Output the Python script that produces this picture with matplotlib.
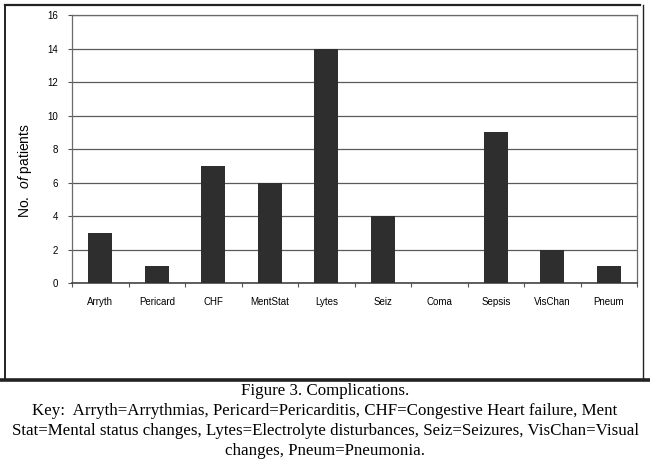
import matplotlib.pyplot as plt
from matplotlib.lines import Line2D
import numpy as np

plt.rcParams['mathtext.fontset'] = 'custom'
plt.rcParams['mathtext.rm'] = 'Liberation Sans'
plt.rcParams['mathtext.it'] = 'Liberation Sans:italic'

categories = ['Arryth', 'Pericard', 'CHF', 'MentStat', 'Lytes', 'Seiz', 'Coma', 'Sepsis', 'VisChan', 'Pneum']
patients = [3, 1, 7, 6, 14, 4, 0, 9, 2, 1]
y_ticks = [0, 2, 4, 6, 8, 10, 12, 14, 16]

caption_title = 'Figure 3. Complications.'
caption_key = ('Key:  Arryth=Arrythmias, Pericard=Pericarditis, CHF=Congestive Heart failure, Ment\n'
               'Stat=Mental status changes, Lytes=Electrolyte disturbances, Seiz=Seizures, VisChan=Visual\n'
               'changes, Pneum=Pneumonia.')

W, H = 650, 469
fig = plt.figure(figsize=(W / 100, H / 100), dpi=100)
fig.patch.set_facecolor('white')

# plot area in pixels: x 72..637, y 15..283
ax = fig.add_axes([72 / W, 1 - 283 / H, (637 - 72) / W, (283 - 15) / H])

x = np.arange(len(categories))
ax.bar(x, patients, width=0.43, color='#2e2e2e', zorder=3)

ax.set_xlim(-0.5, len(categories) - 0.5)
ax.set_ylim(0, 16)
ax.set_yticks(y_ticks)
ax.set_yticklabels([str(t) for t in y_ticks], fontsize=7, family='Liberation Sans')
ax.set_xticks(x)
ax.set_xticklabels(categories, fontsize=7, family='Liberation Sans')
ax.tick_params(axis='x', length=0, pad=10)
ax.tick_params(axis='y', length=3, width=0.8, color='#555555', pad=7)
ax.set_xticks(np.arange(len(categories) + 1) - 0.5, minor=True)
ax.tick_params(axis='x', which='minor', length=3, width=0.8, color='#555555')

ax.grid(axis='y', color='#5a5a5a', linewidth=0.9, zorder=0)
for s in ax.spines.values():
    s.set_color('#6a6a6a')
    s.set_linewidth(0.9)
ax.spines['bottom'].set_color('#444444')
ax.spines['bottom'].set_linewidth(1.2)

ax.set_ylabel(r'No.  $\mathit{of}$ patients', fontsize=10, family='Liberation Sans')
ax.yaxis.set_label_coords((34 - 72) / (637 - 72), (283 - 171) / (283 - 15))

# outer frame of the scanned figure
def px_line(x0, y0, x1, y1, lw, c='#222222'):
    fig.add_artist(Line2D([x0 / W, x1 / W], [1 - y0 / H, 1 - y1 / H], lw=lw, color=c))

px_line(5, 5, 640, 5, 1.6)
px_line(5, 5, 5, 380, 1.4)
px_line(643, 5, 643, 380, 1.0)
px_line(0, 380, 650, 380, 2.6)

fig.text(0.5, 1 - 391 / H, caption_title, ha='center', va='center',
         fontsize=12.2, family='Liberation Serif')
fig.text(0.5, 1 - 431 / H, caption_key, ha='center', va='center',
         fontsize=12.2, family='Liberation Serif', linespacing=1.3)

fig.savefig('out.png', dpi=100)
